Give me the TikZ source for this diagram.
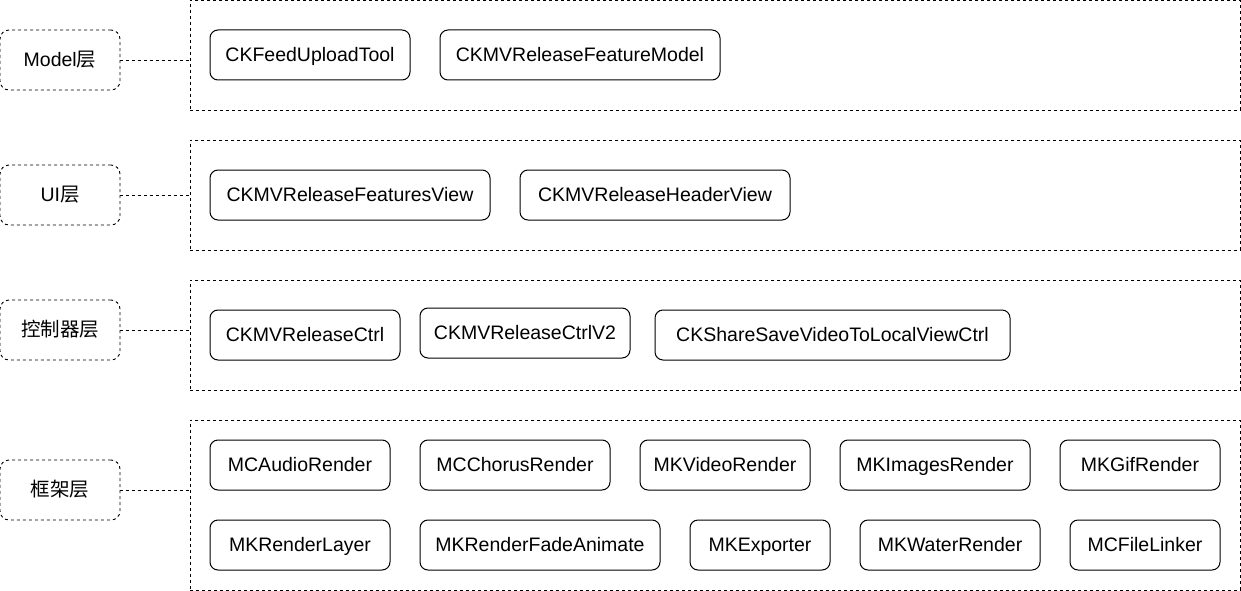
\documentclass[tikz,border=0pt]{standalone}
\usepackage{fontspec}
\setmainfont{Liberation Sans}
\newfontfamily\cjk{Noto Sans CJK SC}
\usetikzlibrary{positioning}

\begin{document}
\begin{tikzpicture}[x=1pt,y=-1pt,font=\fontsize{19.5}{23}\selectfont,
  layer/.style={draw,dashed,rounded corners=9pt,minimum width=120pt,minimum height=60pt,inner sep=0pt,text height=14pt,text depth=1pt,line width=0.9pt},
  group/.style={draw,dashed,minimum width=1050pt,inner sep=0pt,line width=0.9pt},
  item/.style={draw,rounded corners=8pt,minimum height=50pt,inner sep=0pt,text height=14pt,text depth=1pt,line width=1pt},
  link/.style={dashed,line width=0.9pt}]
\useasboundingbox (0,0) rectangle (1241,591);
% layer labels
\node[layer] (model) at (60,60){Model{\cjk 层}};
\node[layer] (ui) at (60,195){UI{\cjk 层}};
\node[layer] (ctrl) at (60,330){{\cjk 控制器层}};
\node[layer] (fw) at (60,490){{\cjk 框架层}};
% groups
\node[group, minimum height=110pt] (modelgrp) at (715,55){};
\node[group, minimum height=110pt] (uigrp) at (715,195){};
\node[group, minimum height=110pt] (ctrlgrp) at (715,335){};
\node[group, minimum height=170pt] (fwgrp) at (715,505){};
% model
\node[item, minimum width=200pt] (feedtool) at (310,55){CKFeedUploadTool};
\node[item, minimum width=280pt] (featmodel) at (580,55){CKMVReleaseFeatureModel};
% ui
\node[item, minimum width=280pt] (featview) at (350,195){CKMVReleaseFeaturesView};
\node[item, minimum width=270pt] (headview) at (655,195){CKMVReleaseHeaderView};
% controllers
\node[item, minimum width=190pt] (relctrl) at (305,335){CKMVReleaseCtrl};
\node[item, minimum width=210pt] (relctrltwo) at (525,333){CKMVReleaseCtrlV2};
\node[item, minimum width=355pt] (sharectrl) at (832.5,335){CKShareSaveVideoToLocalViewCtrl};
% framework
\node[item, minimum width=180pt] (audio) at (300,465){MCAudioRender};
\node[item, minimum width=190pt] (chorus) at (515,465){MCChorusRender};
\node[item, minimum width=170pt] (video) at (725,465){MKVideoRender};
\node[item, minimum width=190pt] (images) at (935,465){MKImagesRender};
\node[item, minimum width=160pt] (gif) at (1140,465){MKGifRender};
\node[item, minimum width=180pt] (renderlayer) at (300,545){MKRenderLayer};
\node[item, minimum width=240pt] (fade) at (540,545){MKRenderFadeAnimate};
\node[item, minimum width=140pt] (exporter) at (760,545){MKExporter};
\node[item, minimum width=180pt] (water) at (950,545){MKWaterRender};
\node[item, minimum width=150pt] (linker) at (1145,545){MCFileLinker};
% links
\draw[link] (model.east) -- (model.east -| modelgrp.west);
\draw[link] (ui.east) -- (ui.east -| uigrp.west);
\draw[link] (ctrl.east) -- (ctrl.east -| ctrlgrp.west);
\draw[link] (fw.east) -- (fw.east -| fwgrp.west);
\end{tikzpicture}
\end{document}
